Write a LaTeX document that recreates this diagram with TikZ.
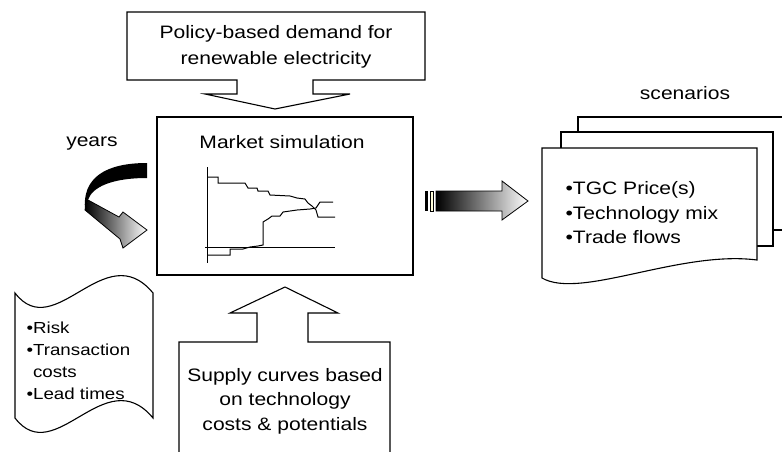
\documentclass[tikz,border=0pt]{standalone}
\usepackage{fontspec}
\setmainfont{Liberation Sans}[FakeStretch=1.17]

\begin{document}
\begin{tikzpicture}[
    x=1pt, y=-1pt,
    line width=1.1pt,
    line join=miter,
    every node/.style={text=black, inner sep=0pt},
    txt/.style={font=\fontsize{18}{26}\selectfont, align=center},
    bullets/.style={font=\fontsize{18}{24.5}\selectfont, align=left},
    smallbullets/.style={font=\fontsize{16}{22}\selectfont, align=left},
    blockarrow/.style={draw=black, fill=white},
    fade/.style={left color=black, right color=white, draw=black, line width=0.8pt},
    steps/.style={line width=1pt}
]
    \useasboundingbox (0,0) rectangle (782,451);
    \clip (0,0) rectangle (782,451);

    % --- Policy demand (top) ---
    \draw[blockarrow] (127,12) -- (425,12) -- (425,80) -- (313,80) -- (313,94)
        -- (350,94) -- (275,109) -- (205,94) -- (237,94) -- (237,80)
        -- (127,80) -- cycle;
    \node[txt] (demand) at (276,47) {Policy-based demand for\\renewable electricity};

    % --- Market simulation box ---
    \node[draw, minimum width=256pt, minimum height=158pt] (market) at (285,196) {};
    \node[txt] (markettitle) at (282,142) {Market simulation};

    % chart inside
    \draw[steps] (207,167) -- (207,263);
    \draw[steps] (205,247) -- (335,247);
    \draw[steps] (207,177) -- (218,177) -- (218,183) -- (245,183) -- (248,188)
        -- (257,188) -- (258,191) -- (268,191) -- (270,195) -- (290,196)
        -- (297,198) -- (305,199) -- (308,203) -- (312,206) -- (316,210)
        -- (318,217) -- (335,217);
    \draw[steps] (207,255) -- (230,255) -- (230,249) -- (243,249) -- (250,247)
        -- (258,246) -- (263,245) -- (263,222) -- (268,219) -- (272,216)
        -- (280,216) -- (283,212) -- (297,210) -- (310,209) -- (316,208)
        -- (320,202) -- (333,202);

    % --- Years loop arrow ---
    \node[txt] (years) at (92,144) {years};
    \fill[black] (147,163) .. controls (105,163) and (82,178) .. (85,210)
        -- (88,200) .. controls (92,187) and (112,178) .. (147,178) -- cycle;
    \shade[fade] (88,200) -- (119,217) -- (123,212) -- (147,230) -- (123,248)
        -- (120,239) -- (85,210) -- cycle;

    % --- Other factors (left document) ---
    \draw (15,293) .. controls (55,345) and (105,235) .. (153,293)
        -- (153,418) .. controls (105,360) and (55,470) .. (15,418) -- cycle;
    \node[smallbullets, anchor=west] (factors) at (26,361)
        {•Risk\\•Transaction\\\phantom{•}costs\\•Lead times};

    % --- Supply curves (bottom) ---
    \draw[blockarrow] (179,470) -- (179,342) -- (257,342) -- (257,313)
        -- (230,313) -- (285,287) -- (338,313) -- (308,313) -- (308,342)
        -- (390,342) -- (390,470);
    \node[txt, font=\fontsize{18}{24.5}\selectfont] (supply) at (285,401)
        {Supply curves based\\on technology\\costs \& potentials};

    % --- Output arrow ---
    \fill (425,191) rectangle (428,211);
    \draw[line width=0.8pt, fill=yellow!15] (430,191) rectangle (433,211);
    \shade[fade] (436,191) -- (502,191) -- (502,181) -- (528,201) -- (502,220)
        -- (502,211) -- (436,211) -- cycle;

    % --- Scenarios (stacked documents) ---
    \node[txt] (scenarios) at (685,93) {scenarios};
    \draw[fill=white] (578,132) -- (578,117) -- (790,117) -- (790,230) -- (773,230);
    \draw[fill=white] (561,148) -- (561,132) -- (773,132) -- (773,246) -- (757,246);
    \draw[fill=white] (542,148) -- (757,148) -- (757,260)
        .. controls (680,250) and (580,300) .. (542,278) -- cycle;
    \node[bullets, anchor=west] (results) at (565,213)
        {•TGC Price(s)\\•Technology mix\\•Trade flows};

\end{tikzpicture}
\end{document}
